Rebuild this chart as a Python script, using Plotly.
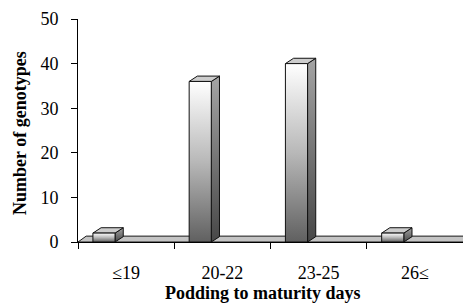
import plotly.graph_objects as go

categories = ["≤19", "20-22", "23-25", "26≤"]
values = [2, 36, 40, 2]
y_ticks = [0, 10, 20, 30, 40, 50]
x_title = "Podding to maturity days"
y_title = "Number of genotypes"

# geometry of the pseudo-3D columns (axis units)
off0, off1 = -0.345, -0.115
dx, dy = 0.085, 1.2

FONT = "Liberation Serif"
fig = go.Figure()

# floor
n = len(categories)
fx = [-0.5, -0.5 + dx, n - 0.5 + dx, n - 0.5, -0.5]
fy = [0, dy * 1.1, dy * 1.1, 0, 0]
fig.add_trace(go.Scatter(x=fx, y=fy, fill="toself", fillcolor="#c4c4c4",
                         mode="lines", line=dict(color="#1a1a1a", width=1),
                         hoverinfo="skip", showlegend=False))

for i, v in enumerate(values):
    x0, x1 = i + off0, i + off1
    # side face
    fig.add_trace(go.Scatter(
        x=[x1, x1 + dx, x1 + dx, x1, x1], y=[0, dy, v + dy, v, 0],
        fill="toself", mode="lines", line=dict(color="#111", width=1),
        fillgradient=dict(type="vertical", colorscale=[[0, "#474747"], [1, "#a4a4a4"]]),
        hoverinfo="skip", showlegend=False))
    # top face
    fig.add_trace(go.Scatter(
        x=[x0, x0 + dx, x1 + dx, x1, x0], y=[v, v + dy, v + dy, v, v],
        fill="toself", fillcolor="#cdcdcd", mode="lines", line=dict(color="#111", width=1),
        hoverinfo="skip", showlegend=False))
    # front face
    fig.add_trace(go.Scatter(
        x=[x0, x1, x1, x0, x0], y=[0, 0, v, v, 0],
        fill="toself", mode="lines", line=dict(color="#111", width=1),
        fillgradient=dict(type="vertical", colorscale=[[0, "#606060"], [0.5, "#b8b8b8"], [1, "#ffffff"]]),
        hoverinfo="skip", showlegend=False))

fig.update_layout(
    width=464, height=307,
    margin=dict(l=78, r=1, t=19, b=65),
    paper_bgcolor="white", plot_bgcolor="white",
    font=dict(family=FONT, size=18, color="black"),
    xaxis=dict(range=[-0.5, n - 0.5], tickvals=list(range(n)), ticktext=categories,
               showgrid=False, zeroline=False, showline=True, linecolor="black", linewidth=1,
               ticks="", ticklabelstandoff=14,
               minor=dict(tickvals=[i - 0.5 for i in range(n)], ticks="outside", ticklen=6,
                          tickcolor="black", tickwidth=1, showgrid=False),
               tickfont=dict(family=FONT, size=18)),
    yaxis=dict(range=[0, 50], tickvals=y_ticks, showgrid=False, zeroline=False,
               showline=True, linecolor="black", linewidth=1,
               ticks="outside", ticklen=6, tickcolor="black", ticklabelstandoff=9,
               tickfont=dict(family=FONT, size=18)),
    annotations=[
        dict(text="<b>" + x_title + "</b>", xref="paper", yref="paper",
             x=(263 - 78) / 385, y=(242 - 293) / 223, xanchor="center", yanchor="middle",
             showarrow=False, font=dict(family=FONT, size=18)),
        dict(text="<b>" + y_title + "</b>", xref="paper", yref="paper",
             x=(20 - 78) / 385, y=(242 - 133) / 223, xanchor="center", yanchor="middle",
             textangle=-90, showarrow=False, font=dict(family=FONT, size=18)),
    ],
)

fig.write_html("out.html", config={"displayModeBar": False},
               post_script="document.body.style.margin='0';document.body.style.overflow='hidden';")
